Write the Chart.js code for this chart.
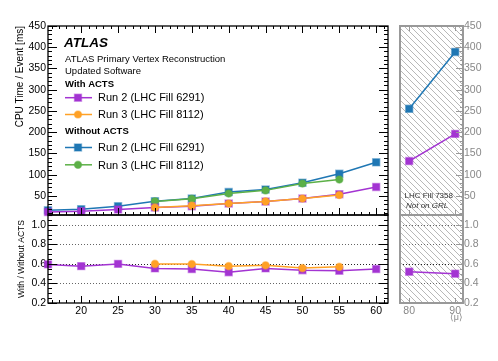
<!DOCTYPE html>
<html>
<head>
<meta charset="utf-8">
<script src="https://cdn.jsdelivr.net/npm/chart.js@4.4.1/dist/chart.umd.min.js"></script>
<style>
  body { margin: 0; background: #fff; }
  #wrap { position: relative; width: 498px; height: 361px; }
  #wrap canvas { position: absolute; left: 0; top: 0; }
</style>
</head>
<body>
<div id="wrap">
  <canvas id="mainLow" width="498" height="361"></canvas>
  <canvas id="ratioLow" width="498" height="361"></canvas>
  <canvas id="mainHigh" width="498" height="361"></canvas>
  <canvas id="ratioHigh" width="498" height="361"></canvas>
</div>
<script>
// pile-up points
var muRun2 = [15.5, 20, 25, 30, 35, 40, 45, 50, 55, 60];
var muRun3 = [30, 35, 40, 45, 50, 55];
var muFill7358 = [80, 90];

// CPU time per event [ms]
var cpuRun2Acts = [12, 14, 18, 22.5, 25.6, 32, 36.7, 43.7, 54, 71];
var cpuRun3Acts = [22.5, 27, 32, 37, 43.7, 52];
var cpuRun2NoActs = [16, 18.6, 25.6, 37.4, 43.8, 59, 65, 81, 102, 129];
var cpuRun3NoActs = [37, 43, 55.5, 63, 79, 88.5];
var cpuFillActs = [132, 196];
var cpuFillNoActs = [255, 389];

// with / without ACTS
var ratioRun2 = [0.595, 0.577, 0.60, 0.554, 0.547, 0.515, 0.554, 0.536, 0.53, 0.547];
var ratioRun3 = [0.60, 0.598, 0.577, 0.585, 0.557, 0.57];
var ratioFill = [0.52, 0.50];

// tick labels
var cpuTicks = [50, 100, 150, 200, 250, 300, 350, 400, 450];
var ratioTicks = [0.2, 0.4, 0.6, 0.8, 1];
var ratioGrid = [0.4, 0.6, 0.8, 1];
var muTicks = [20, 25, 30, 35, 40, 45, 50, 55, 60];
var muFillTicks = [80, 90];

var PURPLE = '#a334d2', ORANGE = '#ffa126', BLUE = '#1f77b4', GREEN = '#5cb047';

Chart.defaults.font.family = '"Liberation Sans", Arial, sans-serif';
Chart.defaults.color = '#000';

function fade(hex, a) {
    var n = parseInt(hex.slice(1), 16);
    return 'rgba(' + (n >> 16) + ',' + ((n >> 8) & 255) + ',' + (n & 255) + ',' + a + ')';
}

function series(label, xs, ys, color, style) {
    return {
        label: label,
        data: xs.map(function (x, i) { return {x: x, y: ys[i]}; }),
        borderColor: color,
        backgroundColor: color,
        pointStyle: style,
        pointRadius: style === 'rect' ? 5 : 3.6,
        pointBorderColor: fade(color, 0.45),
        pointBorderWidth: 1.4,
        borderWidth: 1.5,
        clip: false
    };
}

function steps(a, b, step) {
    var out = [];
    for (var v = a; v <= b + 1e-9; v += step) out.push(+v.toFixed(4));
    return out;
}

function fixTicks(list) {
    return function (s) { s.ticks = list.map(function (v) { return {value: v}; }); };
}

// ROOT-like inner ticks, frame, hatching, dotted grid, in-pad text
var decor = {
    id: 'decor',
    beforeDatasetsDraw: function (chart, args, o) {
        var ctx = chart.ctx, a = chart.chartArea;
        ctx.save();
        if (o.hatch) {
            var pc = document.createElement('canvas');
            pc.width = 6; pc.height = 6;
            var p = pc.getContext('2d');
            p.strokeStyle = '#b0b0b0';
            p.lineWidth = 0.9;
            p.beginPath();
            p.moveTo(-1, -1); p.lineTo(7, 7);
            p.moveTo(5, -1); p.lineTo(7, 1);
            p.moveTo(-1, 5); p.lineTo(1, 7);
            p.stroke();
            ctx.fillStyle = ctx.createPattern(pc, 'repeat');
            ctx.fillRect(a.left, a.top, a.right - a.left, a.bottom - a.top);
        }
        if (o.grid) {
            var ys = chart.scales.y;
            ctx.setLineDash([1, 2]);
            ctx.lineWidth = 1;
            o.grid.forEach(function (v) {
                var py = Math.round(ys.getPixelForValue(v)) + 0.5;
                ctx.strokeStyle = v === 0.6 ? '#222' : '#666';
                ctx.beginPath();
                ctx.moveTo(a.left, py); ctx.lineTo(a.right, py);
                ctx.stroke();
            });
        }
        ctx.restore();
    },
    afterDraw: function (chart, args, o) {
        var ctx = chart.ctx, a = chart.chartArea;
        ctx.save();
        ctx.strokeStyle = o.color;
        ctx.lineWidth = 1;
        (o.ticks || []).forEach(function (t) {
            var sc = chart.scales[t.axis];
            t.values.forEach(function (v) {
                var px = Math.round(sc.getPixelForValue(v)) + 0.5;
                ctx.beginPath();
                if (t.axis === 'x') {
                    if (t.bottom) { ctx.moveTo(px, a.bottom); ctx.lineTo(px, a.bottom - t.len); }
                    if (t.top) { ctx.moveTo(px, a.top); ctx.lineTo(px, a.top + t.len); }
                } else {
                    if (t.left) { ctx.moveTo(a.left, px); ctx.lineTo(a.left + t.len, px); }
                    if (t.right) { ctx.moveTo(a.right, px); ctx.lineTo(a.right - t.len, px); }
                }
                ctx.stroke();
            });
        });
        ctx.lineWidth = o.frameWidth;
        ctx.strokeRect(a.left, a.top, a.right - a.left, a.bottom - a.top);
        if (o.draw) o.draw(ctx, a);
        ctx.restore();
    }
};

function legendRow(ctx, y, color, style, text) {
    ctx.strokeStyle = color;
    ctx.lineWidth = 1.5;
    ctx.beginPath();
    ctx.moveTo(65, y); ctx.lineTo(92, y);
    ctx.stroke();
    ctx.fillStyle = color;
    ctx.strokeStyle = fade(color, 0.45);
    ctx.lineWidth = 1.4;
    ctx.beginPath();
    if (style === 'rect') ctx.rect(74.5, y - 3.5, 7, 7);
    else ctx.arc(78, y, 3.6, 0, Math.PI * 2);
    ctx.fill();
    ctx.stroke();
    ctx.fillStyle = '#000';
    ctx.font = '11px "Liberation Sans", Arial, sans-serif';
    ctx.fillText(text, 98, y + 3.7);
}

function drawLegend(ctx) {
    ctx.fillStyle = '#000';
    ctx.textBaseline = 'alphabetic';
    ctx.font = 'italic bold 13.5px "Liberation Sans", Arial, sans-serif';
    ctx.fillText('ATLAS', 64, 46.5);
    ctx.font = '9.5px "Liberation Sans", Arial, sans-serif';
    ctx.fillText('ATLAS Primary Vertex Reconstruction', 65, 61.5);
    ctx.fillText('Updated Software', 65, 74);
    ctx.font = 'bold 9.5px "Liberation Sans", Arial, sans-serif';
    ctx.fillText('With ACTS', 65, 87);
    legendRow(ctx, 97.7, PURPLE, 'rect', 'Run 2 (LHC Fill 6291)');
    legendRow(ctx, 114.5, ORANGE, 'circle', 'Run 3 (LHC Fill 8112)');
    ctx.fillStyle = '#000';
    ctx.font = 'bold 9.5px "Liberation Sans", Arial, sans-serif';
    ctx.fillText('Without ACTS', 65, 134);
    legendRow(ctx, 147.5, BLUE, 'rect', 'Run 2 (LHC Fill 6291)');
    legendRow(ctx, 164.8, GREEN, 'circle', 'Run 3 (LHC Fill 8112)');
}

function drawFillNote(ctx) {
    ctx.fillStyle = '#333';
    ctx.font = '8px "Liberation Sans", Arial, sans-serif';
    ctx.fillText('LHC Fill 7358', 404.5, 197.7);
    ctx.font = 'italic 8px "Liberation Sans", Arial, sans-serif';
    ctx.fillText('Not on GRL', 406, 207.5);
}

function yAxis(min, max, ticks, side, width, color, title) {
    var ax = {
        type: 'linear', min: min, max: max, position: side,
        afterFit: function (s) { s.width = width; },
        afterBuildTicks: fixTicks(ticks),
        grid: {display: false, drawTicks: false},
        border: {display: false},
        ticks: {padding: side === 'left' ? 2 : 1, autoSkip: false, color: color, font: {size: 10.5}}
    };
    if (title) ax.title = title;
    return ax;
}

function xAxis(min, max, ticks, color, show, title) {
    var ax = {
        type: 'linear', min: min, max: max, position: 'bottom', display: show,
        afterFit: function (s) { s.height = show ? 20 : 0; },
        afterBuildTicks: fixTicks(ticks),
        grid: {display: false, drawTicks: false},
        border: {display: false},
        ticks: {padding: 2, autoSkip: false, maxRotation: 0, color: color, font: {size: 10.5}}
    };
    if (title) ax.title = title;
    return ax;
}

function makeChart(id, datasets, scales, padding, decorOpts) {
    return new Chart(document.getElementById(id), {
        type: 'line',
        data: {datasets: datasets},
        options: {
            responsive: false,
            animation: false,
            events: [],
            layout: {padding: padding},
            scales: scales,
            plugins: {legend: {display: false}, tooltip: {enabled: false}, decor: decorOpts}
        },
        plugins: [decor]
    });
}

var muMin = 15.5, muMax = 61.6, fillMin = 78, fillMax = 91.7;
var cpuMin = 5, cpuMax = 450, ratioMin = 0.2, ratioMax = 1.1;

makeChart('mainLow', [
        series('Run 3 with ACTS', muRun3, cpuRun3Acts, ORANGE, 'circle'),
        series('Run 2 with ACTS', muRun2, cpuRun2Acts, PURPLE, 'rect'),
        series('Run 3 without ACTS', muRun3, cpuRun3NoActs, GREEN, 'circle'),
        series('Run 2 without ACTS', muRun2, cpuRun2NoActs, BLUE, 'rect')
    ], {
        x: xAxis(muMin, muMax, muTicks, '#000', false),
        y: yAxis(cpuMin, cpuMax, cpuTicks, 'left', 48, '#000',
            {display: true, text: 'CPU Time / Event [ms]', align: 'end', font: {size: 10}, padding: {top: 14, bottom: 0}})
    },
    {left: 0, top: 26, right: 110, bottom: 146},
    {color: '#000', frameWidth: 1.3, draw: drawLegend, ticks: [
        {axis: 'x', values: steps(16, 61, 1), len: 3, bottom: true, top: true},
        {axis: 'x', values: muTicks, len: 7, bottom: true, top: true},
        {axis: 'y', values: steps(10, 450, 10), len: 4, left: true, right: true},
        {axis: 'y', values: cpuTicks, len: 9, left: true, right: true}
    ]});

makeChart('ratioLow', [
        series('Run 3', muRun3, ratioRun3, ORANGE, 'circle'),
        series('Run 2', muRun2, ratioRun2, PURPLE, 'rect')
    ], {
        x: xAxis(muMin, muMax, muTicks, '#000', true),
        y: yAxis(ratioMin, ratioMax, ratioTicks, 'left', 48, '#000',
            {display: true, text: 'With / Without ACTS', align: 'center', font: {size: 8.5}, padding: {top: 17, bottom: 0}})
    },
    {left: 0, top: 215, right: 110, bottom: 38},
    {color: '#000', frameWidth: 1.3, grid: ratioGrid, ticks: [
        {axis: 'x', values: steps(16, 61, 1), len: 3, bottom: true},
        {axis: 'x', values: muTicks, len: 7, bottom: true},
        {axis: 'y', values: steps(0.25, 1.1, 0.05), len: 4, left: true, right: true},
        {axis: 'y', values: ratioTicks, len: 9, left: true, right: true}
    ]});

makeChart('mainHigh', [
        series('Run 2 with ACTS', muFill7358, cpuFillActs, PURPLE, 'rect'),
        series('Run 2 without ACTS', muFill7358, cpuFillNoActs, BLUE, 'rect')
    ], {
        x: xAxis(fillMin, fillMax, muFillTicks, '#888', false),
        y: yAxis(cpuMin, cpuMax, cpuTicks, 'right', 35, '#888')
    },
    {left: 400, top: 26, right: 0, bottom: 146},
    {color: '#999', frameWidth: 2, hatch: true, draw: drawFillNote, ticks: [
        {axis: 'x', values: muFillTicks, len: 5, bottom: true, top: true},
        {axis: 'y', values: steps(10, 450, 10), len: 3, right: true},
        {axis: 'y', values: cpuTicks, len: 7, right: true}
    ]});

makeChart('ratioHigh', [
        series('Run 2', muFill7358, ratioFill, PURPLE, 'rect')
    ], {
        x: xAxis(fillMin, fillMax, muFillTicks, '#888', true,
            {display: true, text: '\u27e8\u03bc\u27e9', align: 'end', color: '#888', font: {size: 9}, padding: {top: 0, bottom: 0}}),
        y: yAxis(ratioMin, ratioMax, ratioTicks, 'right', 35, '#888')
    },
    {left: 400, top: 215, right: 0, bottom: 38},
    {color: '#999', frameWidth: 2, hatch: true, grid: ratioGrid, ticks: [
        {axis: 'x', values: muFillTicks, len: 5, bottom: true},
        {axis: 'y', values: steps(0.25, 1.1, 0.05), len: 3, right: true},
        {axis: 'y', values: ratioTicks, len: 7, right: true}
    ]});
</script>
</body>
</html>
